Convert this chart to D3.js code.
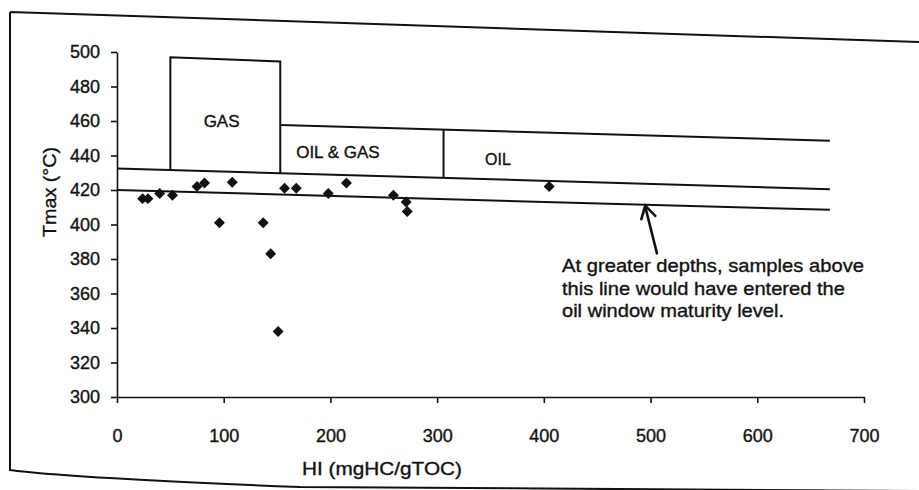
<!DOCTYPE html>
<html>
<head>
<meta charset="utf-8">
<script src="https://cdn.jsdelivr.net/npm/d3@7"></script>
<style>
  html, body { margin: 0; padding: 0; background: #ffffff; }
  svg { display: block; }
  text { font-family: "Liberation Sans", Arial, sans-serif; fill: #111; stroke: #111; stroke-width: 0.35px; }
</style>
</head>
<body>
<svg id="chart" width="919" height="490"></svg>
<script>
// ---- data ----
const hiValues   = [24, 29, 40, 52, 75, 82, 96, 108, 137, 144, 151, 157, 168, 198, 215, 259, 271, 272, 405];
const tmaxValues = [415, 415, 418, 417, 422, 424, 401, 424.5, 401, 383, 338, 421, 421, 418, 424, 417, 413, 407.5, 422];

const xTicks = [0, 100, 200, 300, 400, 500, 600, 700];
const yTicks = [300, 320, 340, 360, 380, 400, 420, 440, 460, 480, 500];

// zone boundary lines (HI, Tmax)
const lowerLine  = [[0, 420], [668, 408.5]];
const upperLine  = [[0, 432.5], [668, 420.5]];
const oilGasTop  = [[153, 457.7], [668, 448.6]];
const gasBoxHI   = [50, 153];
const gasBoxTop  = [497, 494.5];
const oilDividerHI = 306;

const zoneLabels    = ["GAS", "OIL & GAS", "OIL"];
const zoneLabelHI   = [98, 207, 357];
const zoneLabelTmax = [460, 441.6, 437.4];

const noteLines = ["At greater depths, samples above", "this line would have entered the", "oil window maturity level."];
const noteWidths = [302, 283, 222];
const arrowFrom = [506, 383.3];
const arrowToHI = 495;

// ---- drawing ----
const svg = d3.select("#chart");
const x = d3.scaleLinear().domain([0, 700]).range([117, 864]);
const y = d3.scaleLinear().domain([300, 500]).range([397, 52]);

// scanned page frame
svg.append("path")
  .attr("d", "M10,12 L919,42 M10,12 L10,470 Q70,478 300,487 L919,491")
  .attr("fill", "none").attr("stroke", "#111").attr("stroke-width", 2);

// axes
const yAxis = svg.append("g").attr("transform", `translate(${x(0)},0)`)
  .call(d3.axisLeft(y).tickValues(yTicks).tickSize(6).tickSizeOuter(0).tickPadding(11));
const xAxis = svg.append("g").attr("transform", `translate(0,${y(300)})`)
  .call(d3.axisBottom(x).tickValues(xTicks).tickSize(6).tickSizeOuter(0).tickPadding(26));
[xAxis, yAxis].forEach(g => {
  g.selectAll("path, line").attr("stroke", "#111").attr("stroke-width", 1.6);
  g.selectAll("text").style("font-size", "18px").attr("fill", "#111")
    .style("font-family", '"Liberation Sans", Arial, sans-serif');
});

// axis titles
svg.append("text").attr("x", 382).attr("y", 475).attr("text-anchor", "middle")
  .style("font-size", "18px").attr("textLength", 160).attr("lengthAdjust", "spacingAndGlyphs")
  .text("HI (mgHC/gTOC)");
svg.append("text").attr("transform", "translate(50,192) rotate(-90)")
  .attr("text-anchor", "middle").attr("dominant-baseline", "central")
  .style("font-size", "18px").attr("textLength", 90).attr("lengthAdjust", "spacingAndGlyphs")
  .text("Tmax (°C)");

// helpers
const lineAt = (pts, h) => d3.scaleLinear().domain([pts[0][0], pts[1][0]]).range([pts[0][1], pts[1][1]])(h);
const gen = d3.line().x(d => x(d[0])).y(d => y(d[1]));
const zones = svg.append("g").attr("fill", "none").attr("stroke", "#111").attr("stroke-width", 2);

zones.append("path").attr("d", gen(lowerLine));
zones.append("path").attr("d", gen(upperLine));
zones.append("path").attr("d", gen(oilGasTop));
zones.append("path").attr("d", gen([
  [gasBoxHI[0], lineAt(upperLine, gasBoxHI[0])],
  [gasBoxHI[0], gasBoxTop[0]],
  [gasBoxHI[1], gasBoxTop[1]],
  [gasBoxHI[1], lineAt(upperLine, gasBoxHI[1])]
]));
zones.append("path").attr("d", gen([
  [oilDividerHI, lineAt(oilGasTop, oilDividerHI)],
  [oilDividerHI, lineAt(upperLine, oilDividerHI)]
]));

// zone labels
svg.append("g").selectAll("text").data(zoneLabels).join("text")
  .attr("x", (d, i) => x(zoneLabelHI[i]))
  .attr("y", (d, i) => y(zoneLabelTmax[i]))
  .attr("text-anchor", "middle").attr("dominant-baseline", "central")
  .style("font-size", (d, i) => i === 2 ? "16px" : "17px")
  .text(d => d);

// data points
svg.append("g").selectAll("path").data(hiValues).join("path")
  .attr("d", d3.symbol(d3.symbolSquare, 60))
  .attr("transform", (d, i) => `translate(${x(d)},${y(tmaxValues[i])}) rotate(45)`)
  .attr("fill", "#111");

// annotation arrow
const tip = [x(arrowToHI), y(lineAt(lowerLine, arrowToHI))];
const tail = [x(arrowFrom[0]), y(arrowFrom[1])];
const ang = Math.atan2(tail[1] - tip[1], tail[0] - tip[0]);
const headLen = 15, spread = 0.5;
const arrow = svg.append("g").attr("stroke", "#111").attr("stroke-width", 2.6).attr("fill", "none")
  .attr("stroke-linecap", "round");
arrow.append("line").attr("x1", tail[0]).attr("y1", tail[1]).attr("x2", tip[0]).attr("y2", tip[1] + 2);
arrow.append("path").attr("d",
  `M${tip[0] + headLen * Math.cos(ang - spread)},${tip[1] + headLen * Math.sin(ang - spread)} L${tip[0]},${tip[1] + 1} L${tip[0] + headLen * Math.cos(ang + spread)},${tip[1] + headLen * Math.sin(ang + spread)}`);

// annotation text
svg.append("g").selectAll("text").data(noteLines).join("text")
  .attr("x", 562).attr("y", (d, i) => 272 + i * 22.5)
  .style("font-size", "19px")
  .attr("textLength", (d, i) => noteWidths[i]).attr("lengthAdjust", "spacingAndGlyphs")
  .text(d => d);
</script>
</body>
</html>
